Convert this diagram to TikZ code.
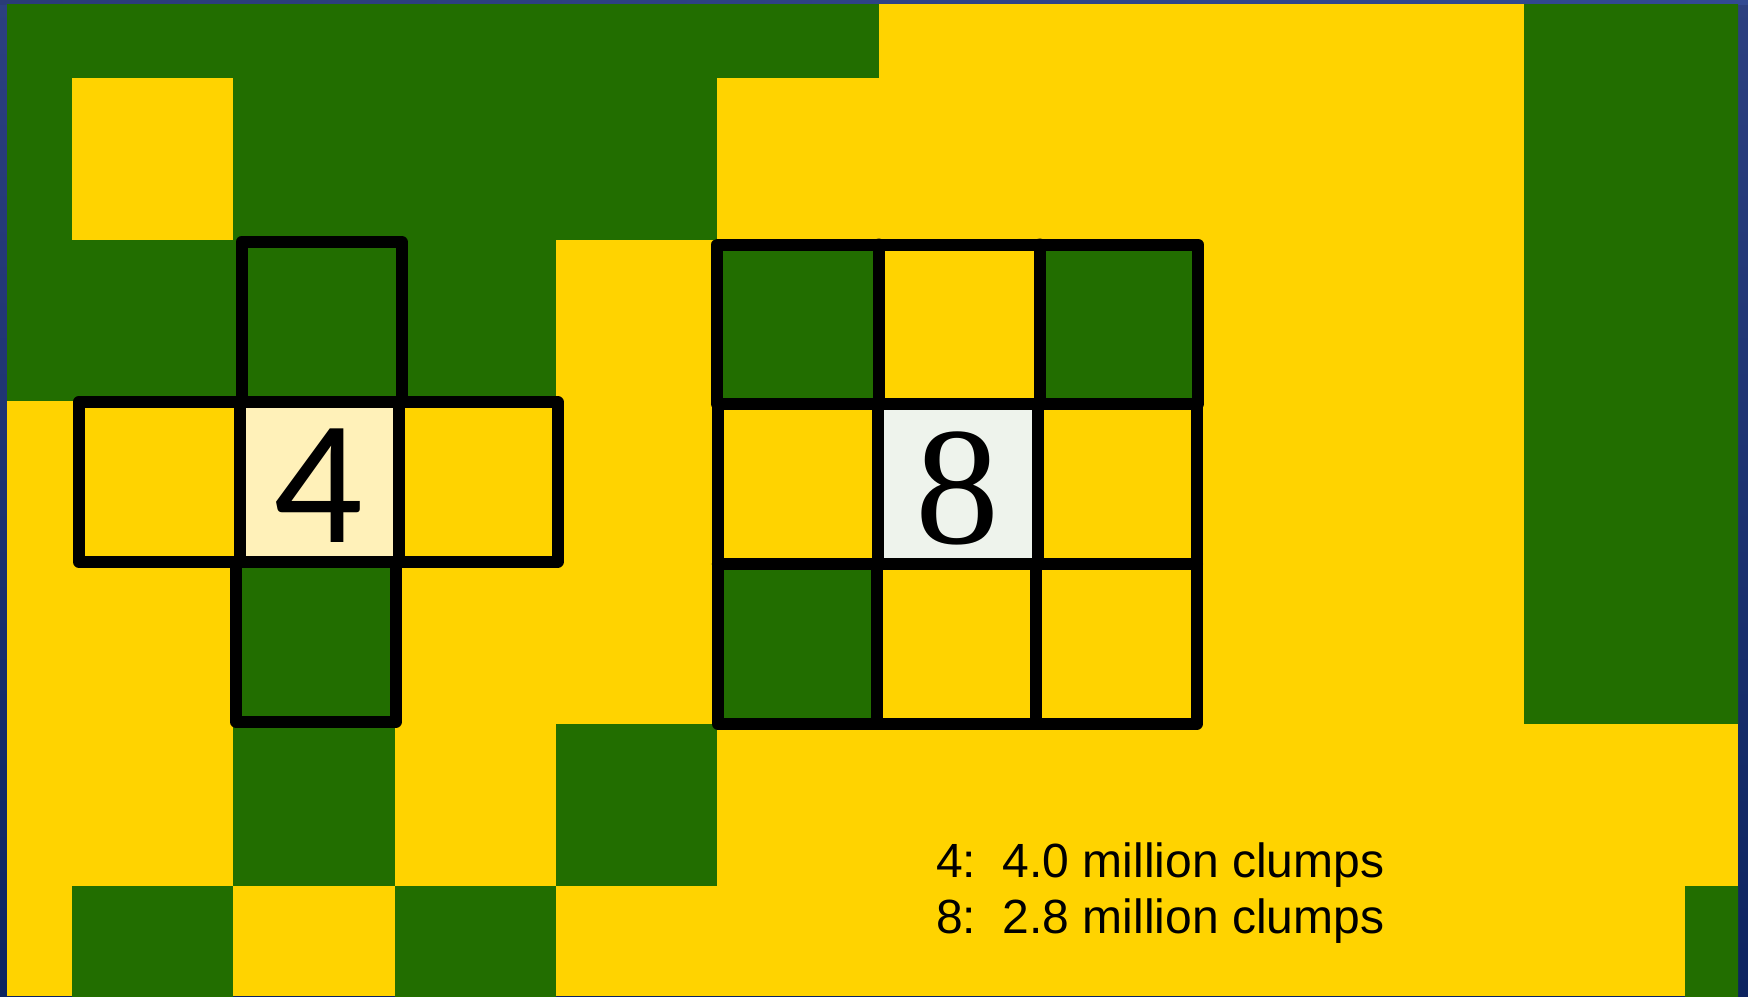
\documentclass[tikz,border=0pt]{standalone}
\usepackage{fontspec}
\newfontfamily\calib{Carlito}
\newfontfamily\arialf{Liberation Sans}
\newfontfamily\timesf{Liberation Serif}
\definecolor{grn}{RGB}{34,110,0}
\definecolor{ylw}{RGB}{255,211,0}
\definecolor{creamc}{RGB}{255,241,185}
\definecolor{palec}{RGB}{238,243,236}
\definecolor{navytop}{RGB}{44,64,128}
\definecolor{navybot}{RGB}{13,36,96}
\definecolor{navyleft}{RGB}{42,60,120}
\definecolor{navymid}{RGB}{72,104,170}
\definecolor{navyright}{RGB}{50,74,146}
\begin{document}
\begin{tikzpicture}[x=1pt,y=-1pt,
  outline/.style={line width=12pt, line join=round, line cap=round, draw=black},
  cellfill/.style={fill=grn}]
\useasboundingbox (0,0) rectangle (1748,996);
% slide background
\shade[top color=navytop, bottom color=navybot] (0,0) rectangle (1748,996);
\shade[left color=navyleft, middle color=navymid, right color=navyright] (0,0) rectangle (1748,4);
% grid of cells
\begin{scope}
\clip (7,4) rectangle (1738,996);
\fill[ylw] (7,4) rectangle (1738,996);
\foreach \i/\j in {0/0,1/0,2/0,3/0,4/0,5/0,10/0,11/0,
                   0/1,2/1,3/1,4/1,10/1,11/1,
                   0/2,1/2,2/2,3/2,5/2,7/2,10/2,11/2,
                   10/3,11/3,
                   2/4,5/4,10/4,11/4,
                   2/5,4/5,
                   1/6,3/6,11/6}
  \fill[cellfill] ({72+161.3*(\i-1)},{78+161.6*(\j-1)}) rectangle ++(161.3,161.6);
\end{scope}
% centre cells
\fill[creamc] (239.5,402) rectangle (399,561.7);
\fill[palec] (877.5,403.7) rectangle (1037.8,564);
% cross of 4 neighbours
\draw[outline] (241.7,241.7) rectangle (401.5,402);
\draw[outline] (78.8,402) rectangle (557.5,561.7);
\draw[outline] (239.5,402) -- (239.5,561.7);
\draw[outline] (399,402) -- (399,561.7);
\draw[outline] (236,561.7) rectangle (396,721.7);
% block of 8 neighbours
\draw[outline] (717.2,244.5) rectangle (1198,403.7);
\draw[outline] (878.7,244.5) -- (878.7,403.7);
\draw[outline] (1039.5,244.5) -- (1039.5,403.7);
\draw[outline] (717.8,403.7) rectangle (1197,723.7);
\draw[outline] (717.8,564) -- (1197,564);
\draw[outline] (877.5,403.7) -- (877.5,564);
\draw[outline] (1037.8,403.7) -- (1037.8,564);
\draw[outline] (876.5,564) -- (876.5,723.7);
\draw[outline] (1036,564) -- (1036,723.7);
% numbers
\node[anchor=base, inner sep=0pt] (four) at (318,542) {\calib\fontsize{177}{177}\selectfont 4};
\node[anchor=base, inner sep=0pt] (eight) at (957,543) {\timesf\fontsize{168}{168}\selectfont 8};
% legend
\node[anchor=base west, inner sep=0pt] (leg1) at (936,877.3) {\arialf\fontsize{48}{57}\selectfont 4:\ \ 4.0 million clumps};
\node[anchor=base west, inner sep=0pt] (leg2) at (936,933.3) {\arialf\fontsize{48}{57}\selectfont 8:\ \ 2.8 million clumps};
\end{tikzpicture}
\end{document}
